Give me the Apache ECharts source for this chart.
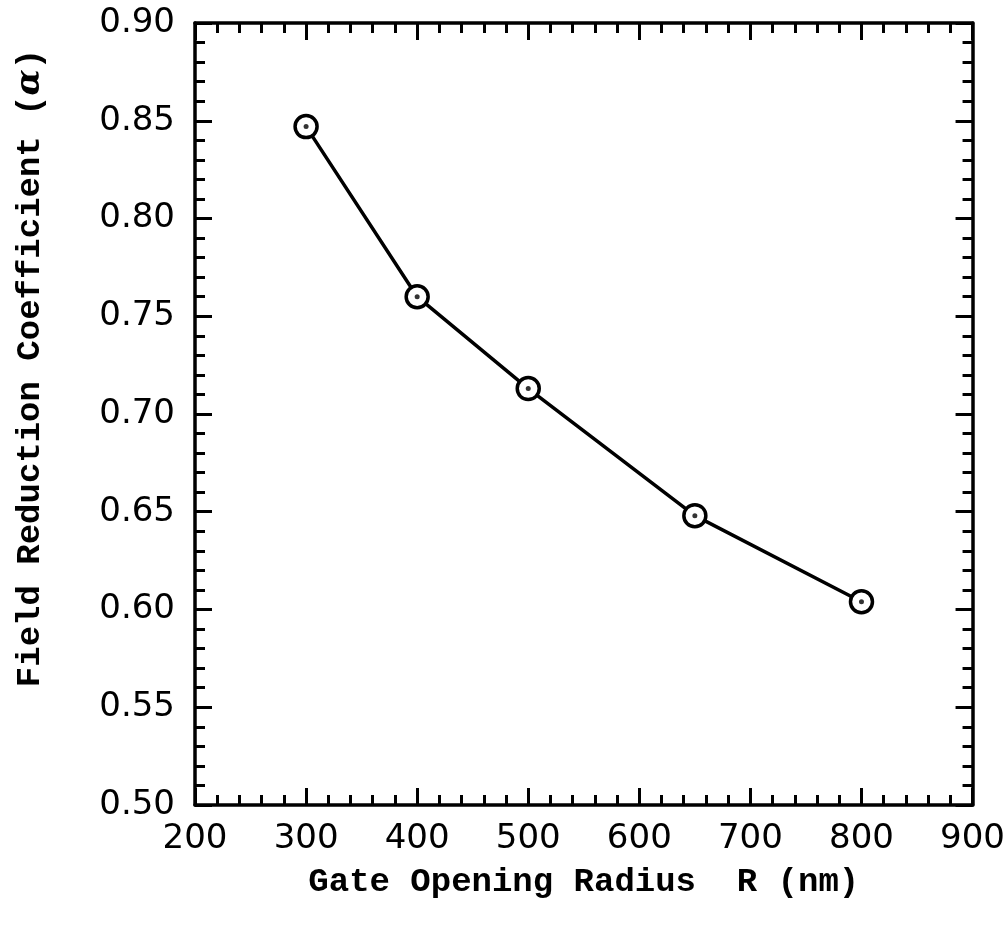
<!DOCTYPE html>
<html>
<head>
<meta charset="utf-8">
<script src="https://cdn.jsdelivr.net/npm/echarts@6/dist/echarts.min.js"></script>
<style>html,body{margin:0;padding:0;background:#fff;}#c{width:1008px;height:928px;}</style>
</head>
<body>
<div id="c"></div>
<script>
var radius = [300, 400, 500, 650, 800];
var alpha = [0.847, 0.760, 0.713, 0.648, 0.604];
var xTicks = [200, 300, 400, 500, 600, 700, 800, 900];
var yTicks = [0.50, 0.55, 0.60, 0.65, 0.70, 0.75, 0.80, 0.85, 0.90];
var xTitle = 'Gate Opening Radius  R (nm)';
var yTitle = 'Field Reduction Coefficient ({a|\u03b1})';

var pts = radius.map(function (r, i) { return [r, alpha[i]]; });
var labelFont = { color: '#000', fontFamily: 'DejaVu Sans', fontSize: 34 };
var titleFont = { color: '#000', fontFamily: 'Liberation Mono', fontSize: 34, fontWeight: 'bold' };
function axisCommon(extra) {
  var o = {
    type: 'value',
    axisLine: { show: true, onZero: false, lineStyle: { color: '#000', width: 3.5 } },
    axisTick: { show: true, inside: true, length: 17, lineStyle: { color: '#000', width: 3 } },
    minorTick: { show: true, splitNumber: 5, length: 10, lineStyle: { color: '#000', width: 3 } },
    splitLine: { show: false },
    minorSplitLine: { show: false }
  };
  for (var k in extra) o[k] = extra[k];
  return o;
}
var xmin = xTicks[0], xmax = xTicks[xTicks.length - 1];
var ymin = yTicks[0], ymax = yTicks[yTicks.length - 1];

var chart = echarts.init(document.getElementById('c'), null, { renderer: 'canvas' });
chart.setOption({
  backgroundColor: '#fff',
  animation: false,
  grid: { left: 195, right: 33, top: 23, bottom: 123, containLabel: false },
  xAxis: [
    axisCommon({
      position: 'bottom', min: xmin, max: xmax, interval: 100,
      axisLabel: Object.assign({ margin: 17 }, labelFont),
      name: xTitle, nameLocation: 'middle', nameGap: 60, nameTextStyle: titleFont
    }),
    axisCommon({
      position: 'top', min: xmin, max: xmax, interval: 100,
      axisLabel: { show: false }
    })
  ],
  yAxis: [
    axisCommon({
      position: 'left', min: ymin, max: ymax, interval: 0.05,
      axisLabel: Object.assign({ margin: 20, formatter: function (v) { return v.toFixed(2); } }, labelFont),
      name: yTitle, nameLocation: 'middle', nameGap: 148,
      nameTextStyle: Object.assign({ padding: [0, 0, 0, 92], rich: { a: { fontStyle: 'italic', fontFamily: 'DejaVu Serif', fontSize: 34, color: '#000' } } }, titleFont)
    }),
    axisCommon({
      position: 'right', min: ymin, max: ymax, interval: 0.05,
      axisLabel: { show: false }
    })
  ],
  series: [
    {
      type: 'line', data: pts, xAxisIndex: 0, yAxisIndex: 0,
      lineStyle: { color: '#000', width: 3.5 },
      symbol: 'circle', symbolSize: 22,
      itemStyle: { color: '#fff', borderColor: '#000', borderWidth: 3.5 },
      z: 3
    },
    {
      type: 'scatter', data: pts, xAxisIndex: 0, yAxisIndex: 0,
      symbol: 'circle', symbolSize: 5,
      itemStyle: { color: '#000' },
      z: 4
    }
  ]
});
</script>
</body>
</html>
